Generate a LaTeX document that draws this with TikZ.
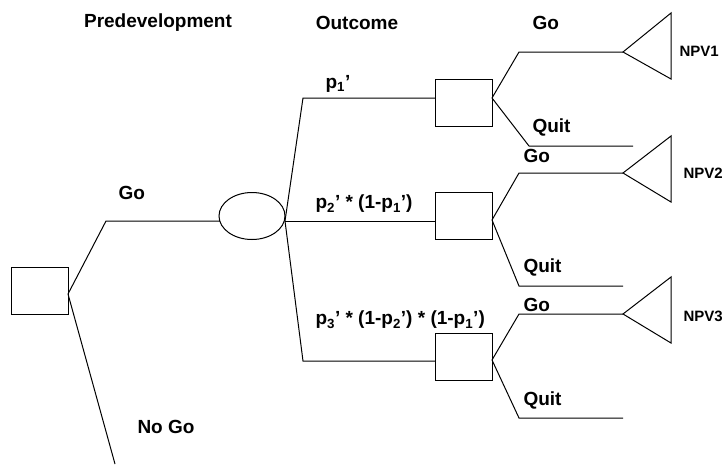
\documentclass[tikz,border=0pt]{standalone}
\usepackage{fontspec}
\setmainfont{Liberation Sans}
\usetikzlibrary{shapes.geometric}
\begin{document}
\begin{tikzpicture}[x=1pt,y=-1pt,line width=1pt,
  decision/.style={draw,rectangle,minimum width=57pt,minimum height=47pt,inner sep=0pt},
  chance/.style={draw,ellipse,minimum width=66pt,minimum height=47pt,inner sep=0pt},
  lbl/.style={font=\fontsize{19}{22}\selectfont\bfseries,inner sep=0pt,anchor=west},
  npv/.style={font=\fontsize{15}{18}\selectfont\bfseries,inner sep=0pt,anchor=west}]
\path[use as bounding box] (0,0) rectangle (724,464);

% column headings
\node[lbl,anchor=center] (hpre) at (158,23) {Predevelopment};
\node[lbl,anchor=center] (hout) at (357,23) {Outcome};
\node[lbl] (hgo) at (532,23) {Go};

% predevelopment decision
\node[decision] (root) at (39.5,290.5) {};
\coordinate (rj) at (68,294);
\coordinate (goc) at (106,221);
\coordinate (nogo) at (115,464);

% outcome chance node
\node[chance] (ev) at (252,216) {};
\coordinate (ein) at (220,221);
\coordinate (eout) at (285,221);

\draw (rj) -- (goc) -- (ein);
\draw (rj) -- (nogo);
\node[lbl] (lgo) at (118,193) {Go};
\node[lbl] (lnogo) at (137,427) {No Go};

% stage decisions
\node[decision] (b1) at (463.5,102.5) {};
\node[decision] (b2) at (463.5,216) {};
\node[decision] (b3) at (463.5,356.5) {};
\coordinate (b1in) at (435,98);  \coordinate (b1out) at (492,98);
\coordinate (b2in) at (435,221); \coordinate (b2out) at (492,220);
\coordinate (b3in) at (435,361); \coordinate (b3out) at (492,360);
\coordinate (c1) at (303,98);
\coordinate (c3) at (303,361);

\draw (eout) -- (c1) -- (b1in);
\draw (eout) -- (b2in);
\draw (eout) -- (c3) -- (b3in);

\node[lbl] (p1) at (325,84) {p\textsubscript{1}’};
\node[lbl] (p2) at (315,204) {p\textsubscript{2}’ * (1-p\textsubscript{1}’)};
\node[lbl] (p3) at (315,320) {p\textsubscript{3}’ * (1-p\textsubscript{2}’) * (1-p\textsubscript{1}’)};

% payoffs
\coordinate (t1) at (623,52);
\coordinate (t2) at (623,173);
\coordinate (t3) at (623,314);
\coordinate (g1) at (519,52);
\coordinate (g2) at (519,173);
\coordinate (g3) at (519,314);
\coordinate (q1) at (529,146); \coordinate (q1e) at (633,146);
\coordinate (q2) at (519,286); \coordinate (q2e) at (623,286);
\coordinate (q3) at (519,418); \coordinate (q3e) at (623,418);

\draw (b1out) -- (g1) -- (t1);
\draw (b2out) -- (g2) -- (t2);
\draw (b3out) -- (g3) -- (t3);
\draw (b1out) -- (q1) -- (q1e);
\draw (b2out) -- (q2) -- (q2e);
\draw (b3out) -- (q3) -- (q3e);

\draw[line join=miter] (t1) -- ++(48,-39) -- ++(0,66) -- cycle;
\draw[line join=miter] (t2) -- ++(48,-37) -- ++(0,66) -- cycle;
\draw[line join=miter] (t3) -- ++(48,-37) -- ++(0,66) -- cycle;

\node[lbl] (lq1) at (532,127) {Quit};
\node[lbl] (lg2) at (523,156) {Go};
\node[lbl] (lq2) at (523,267) {Quit};
\node[lbl] (lg3) at (523,305) {Go};
\node[lbl] (lq3) at (523,400) {Quit};

\node[npv] (n1) at (679,51) {NPV1};
\node[npv] (n2) at (683,173) {NPV2};
\node[npv] (n3) at (683,316) {NPV3};
\end{tikzpicture}
\end{document}
